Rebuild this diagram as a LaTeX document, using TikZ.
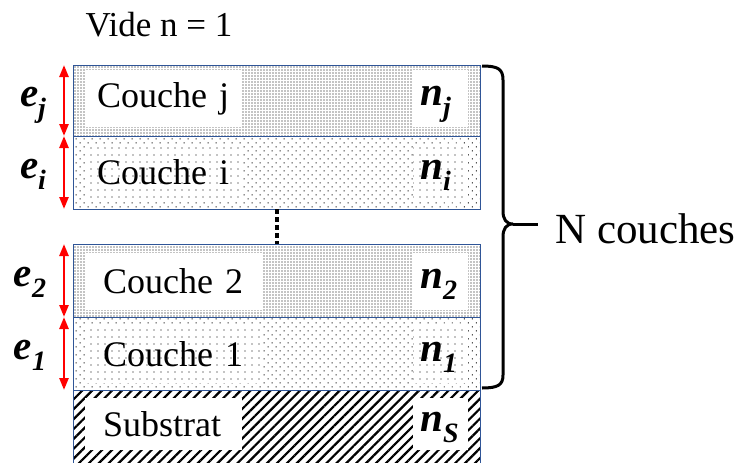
\documentclass[tikz,border=0pt]{standalone}
\usepackage{fontspec}
\setmainfont{Liberation Serif}
\usetikzlibrary{patterns.meta,arrows.meta,calc}
\definecolor{bordblue}{RGB}{47,85,151}
\newcommand{\ind}[1]{\raisebox{-11pt}{\fontsize{28}{30}\selectfont #1}}

\tikzset{
  couche/.style={draw=bordblue, line width=0.8pt, minimum width=407pt, inner sep=0pt, outer sep=0pt},
  dense/.style={pattern={Dots[distance=3pt,radius=0.7pt]}},
  medium/.style={pattern={Dots[distance=5.66pt,angle=45,radius=0.7pt]}},
  sparse/.style={preaction={fill=white}, pattern={Dots[distance=7pt,radius=0.7pt]}},
  hatch/.style={pattern={Lines[angle=45,distance=7pt,line width=2.2pt]}},
  boite/.style={inner ysep=0pt, minimum height=57pt, anchor=west, align=left, font=\fontsize{36}{40}\selectfont},
  indice/.style={boite, inner xsep=7pt, text width=41pt, text height=32pt, text depth=18pt,
    font=\fontsize{41}{44}\selectfont\bfseries\itshape},
  lettre/.style={text height=32pt, text depth=18pt, font=\fontsize{41}{44}\selectfont\bfseries\itshape},
  epaisseur/.style={red, line width=2.5pt, {Triangle[width=9pt,length=12pt]}-{Triangle[width=9pt,length=12pt]}},
  pointilles/.style={line width=4pt, dash pattern=on 4.5pt off 3.5pt},
  accolade/.style={line width=3pt}
}

\begin{document}
\begin{tikzpicture}[x=1pt,y=-1pt]

\useasboundingbox (0,0) rectangle (737,463);

% les couches
\node[couche, dense, minimum height=71pt] (cj) at (276.5,100.5) {};
\node[couche, medium, minimum height=73pt] (ci) at (276.5,172.5) {};
\node[couche, dense, minimum height=73pt] (c2) at (276.5,280.5) {};
\node[couche, medium, minimum height=73pt] (c1) at (276.5,353.5) {};
\node[couche, hatch, minimum height=74pt] (cs) at (276.5,427) {};

% les noms
\node[boite, fill=white, inner xsep=12pt, text width=133pt] (tj) at (85,98.5) {Couche j};
\node[boite, sparse, inner xsep=12pt, text width=133pt] (ti) at (85,172) {Couche i};
\node[boite, fill=white, inner xsep=18pt, text width=141pt] (t2) at (85,281.5) {Couche 2};
\node[boite, sparse, inner xsep=18pt, text width=141pt] (t1) at (85,354) {Couche 1};
\node[boite, fill=white, inner xsep=18pt, text width=121pt, minimum height=52pt] (ts) at (85,424) {Substrat};

% les indices
\node[indice, fill=white] (nj) at (413,98.5) {n\ind{j}};
\node[indice, sparse] (ni) at (413,172) {n\ind{i}};
\node[indice, fill=white] (n2) at (413,281.5) {n\ind{2}};
\node[indice, sparse] (n1) at (413,354) {n\ind{1}};
\node[indice, fill=white, minimum height=52pt] (ns) at (413,424) {n\ind{S}};

\draw[pointilles] (ci.south) -- (c2.north);

% les epaisseurs
\draw[epaisseur] ($(cj.north west)+(-9,0)$) -- ($(cj.south west)+(-9,0)$);
\draw[epaisseur] ($(ci.north west)+(-9,0)$) -- ($(ci.south west)+(-9,0)$);
\draw[epaisseur] ($(c2.north west)+(-9,0)$) -- ($(c2.south west)+(-9,0)$);
\draw[epaisseur] ($(c1.north west)+(-9,0)$) -- ($(c1.south west)+(-9,0)$);

\node[lettre] (ej) at (33,99) {e\ind{j}};
\node[lettre] (ei) at (33,171) {e\ind{i}};
\node[lettre] (e2) at (30,279) {e\ind{2}};
\node[lettre] (e1) at (30,352) {e\ind{1}};

\node[anchor=west, font=\fontsize{35}{40}\selectfont] (vide) at (82,25) {Vide n = 1};

% accolade
\coordinate (pointe) at (513,224);
\coordinate (fin) at (538,224);
\draw[accolade] (482,66) .. controls (498,66) and (503,69) .. (503,80) -- (503,211)
  .. controls (503,219) and (506,224) .. (pointe)
  .. controls (506,224) and (503,229) .. (503,237) -- (503,375)
  .. controls (503,385) and (498,388) .. (482,388);
\draw[accolade] (pointe) -- (fin);
\node[anchor=west, inner sep=0pt, font=\fontsize{43}{46}\selectfont] (nc) at (555,229) {N couches};

\end{tikzpicture}
\end{document}
